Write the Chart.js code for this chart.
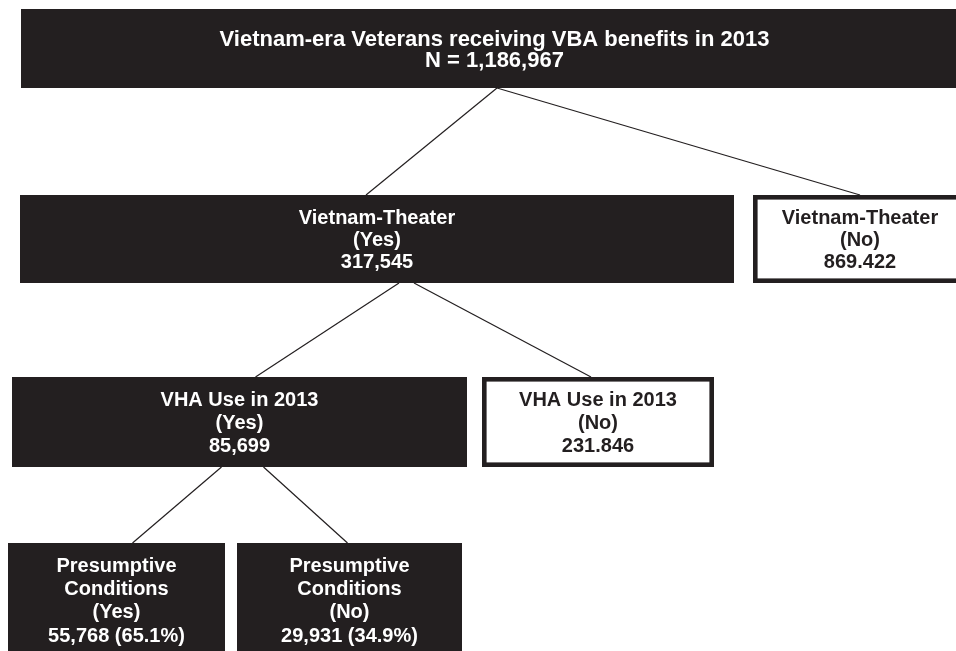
<!DOCTYPE html>
<html>
<head>
<meta charset="utf-8">
<script src="https://cdn.jsdelivr.net/npm/chart.js@4/dist/chart.umd.min.js"></script>
<style>
  html, body { margin: 0; padding: 0; background: #ffffff; }
  #wrap { width: 956px; height: 651px; }
</style>
</head>
<body>
<div id="wrap"><canvas id="c" width="956" height="651"></canvas></div>
<script>
// ---- data ----
const nodeTitles = [
  ['Vietnam-era Veterans receiving VBA benefits in 2013'],
  ['Vietnam-Theater', '(Yes)'],
  ['Vietnam-Theater', '(No)'],
  ['VHA Use in 2013', '(Yes)'],
  ['VHA Use in 2013', '(No)'],
  ['Presumptive', 'Conditions', '(Yes)'],
  ['Presumptive', 'Conditions', '(No)']
];
const nodeCountLabels = [
  'N = 1,186,967',
  '317,545',
  '869.422',
  '85,699',
  '231.846',
  '55,768 (65.1%)',
  '29,931 (34.9%)'
];
const edges = [[0, 1], [0, 2], [1, 3], [1, 4], [3, 5], [3, 6]];

// ---- layout (axis units = px of the 956x651 frame) ----
const layout = {
  boxes: [
    { x0: 21,  y0: 9,   x1: 968, y1: 88,  filled: true,  size: 22, gap: 21.5 },
    { x0: 20,  y0: 195, x1: 734, y1: 283, filled: true,  size: 20, gap: 22 },
    { x0: 753, y0: 195, x1: 967, y1: 283, filled: false, size: 20, gap: 22 },
    { x0: 12,  y0: 377, x1: 467, y1: 467, filled: true,  size: 20, gap: 23.3 },
    { x0: 482, y0: 377, x1: 714, y1: 467, filled: false, size: 20, gap: 23.3 },
    { x0: 8,   y0: 543, x1: 225, y1: 656, filled: true,  size: 20, gap: 23.3 },
    { x0: 237, y0: 543, x1: 462, y1: 656, filled: true,  size: 20, gap: 23.3 }
  ],
  // x offsets from parent bottom-centre and child top-centre
  edgeOffsets: [[2.5, -11], [2.5, 0], [22, -16 + 32], [37, -7], [-18, 16], [24, -2]],
  ink: '#231f20',
  border: 4.6,
  lineWidth: 1.2
};

// build connector datasets from the tree
const connectorSets = edges.map((e, i) => {
  const p = layout.boxes[e[0]], c = layout.boxes[e[1]];
  const off = layout.edgeOffsets[i];
  return {
    type: 'line',
    data: [
      { x: (p.x0 + p.x1) / 2 + off[0], y: p.y1 },
      { x: (c.x0 + c.x1) / 2 + off[1], y: c.y0 }
    ],
    borderColor: layout.ink,
    borderWidth: layout.lineWidth,
    pointRadius: 0,
    showLine: true,
    fill: false,
    tension: 0
  };
});

const boxPlugin = {
  id: 'boxes',
  afterDatasetsDraw(chart) {
    const ctx = chart.ctx;
    const xs = chart.scales.x, ys = chart.scales.y;
    layout.boxes.forEach((b, i) => {
      const X0 = xs.getPixelForValue(b.x0), X1 = xs.getPixelForValue(b.x1);
      const Y0 = ys.getPixelForValue(b.y0), Y1 = ys.getPixelForValue(b.y1);
      ctx.save();
      if (b.filled) {
        ctx.fillStyle = layout.ink;
        ctx.fillRect(X0, Y0, X1 - X0, Y1 - Y0);
      } else {
        ctx.fillStyle = '#ffffff';
        ctx.fillRect(X0, Y0, X1 - X0, Y1 - Y0);
        ctx.strokeStyle = layout.ink;
        ctx.lineWidth = layout.border;
        const h = layout.border / 2;
        ctx.strokeRect(X0 + h, Y0 + h, X1 - X0 - 2 * h, Y1 - Y0 - 2 * h);
      }
      const lines = nodeTitles[i].concat([nodeCountLabels[i]]);
      ctx.fillStyle = b.filled ? '#ffffff' : layout.ink;
      ctx.font = 'bold ' + b.size + 'px "Liberation Sans", Arial, sans-serif';
      ctx.textAlign = 'center';
      ctx.textBaseline = 'alphabetic';
      const cx = (X0 + X1) / 2, cy = (Y0 + Y1) / 2;
      const capH = 0.716 * b.size;
      const first = cy - (lines.length - 1) * b.gap / 2 + capH / 2;
      lines.forEach((t, k) => ctx.fillText(t, cx, first + k * b.gap));
      ctx.restore();
    });
  }
};

new Chart(document.getElementById('c'), {
  type: 'scatter',
  data: { datasets: connectorSets },
  options: {
    responsive: false,
    animation: false,
    devicePixelRatio: 1,
    layout: { padding: 0 },
    plugins: { legend: { display: false }, tooltip: { enabled: false } },
    scales: {
      x: { type: 'linear', min: 0, max: 956, display: false },
      y: { type: 'linear', min: 0, max: 651, reverse: true, display: false }
    }
  },
  plugins: [boxPlugin]
});
</script>
</body>
</html>
